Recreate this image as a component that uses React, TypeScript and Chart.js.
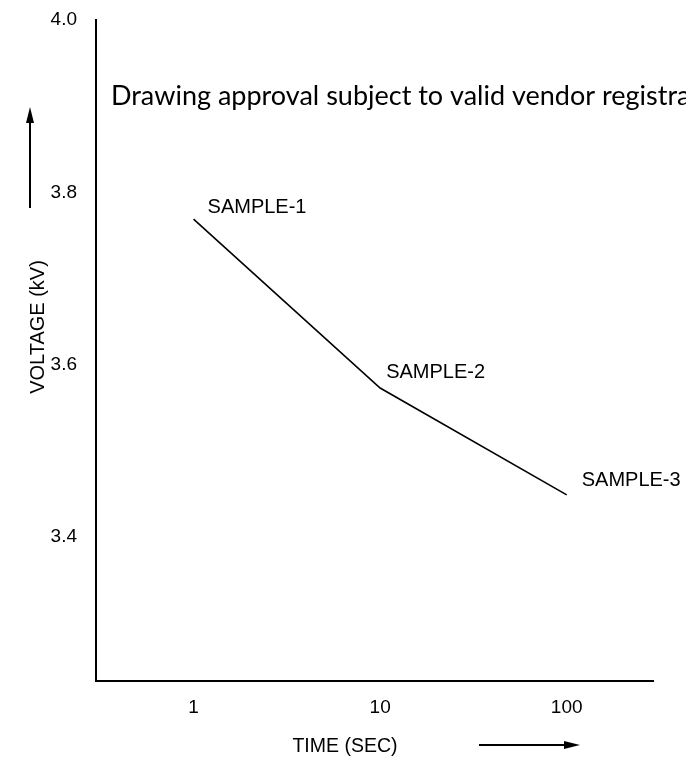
import React, { useEffect, useRef } from "react";
import { Chart, registerables } from "chart.js";

Chart.register(...registerables);

const times = [1, 10, 100];
const voltages = [3.769, 3.573, 3.449];
const sampleLabels = ["SAMPLE-1", "SAMPLE-2", "SAMPLE-3"];
const xTicks = [1, 10, 100];
const yTicks = [3.4, 3.6, 3.8, 4.0];
const watermark = "Drawing approval subject to valid vendor registration";
const xTitle = "TIME (SEC)";
const yTitle = "VOLTAGE (kV)";

const FONT = "'Liberation Sans', Arial, sans-serif";
const W = 686;
const H = 763;

function arrow(ctx: CanvasRenderingContext2D, x1: number, y1: number, x2: number, y2: number) {
  const ang = Math.atan2(y2 - y1, x2 - x1);
  const head = 16;
  const half = 4;
  const bx = x2 - head * Math.cos(ang);
  const by = y2 - head * Math.sin(ang);
  ctx.beginPath();
  ctx.lineWidth = 2;
  ctx.moveTo(x1, y1);
  ctx.lineTo(bx, by);
  ctx.stroke();
  ctx.beginPath();
  ctx.moveTo(x2, y2);
  ctx.lineTo(bx + half * Math.sin(ang), by - half * Math.cos(ang));
  ctx.lineTo(bx - half * Math.sin(ang), by + half * Math.cos(ang));
  ctx.closePath();
  ctx.fill();
}

const annotations = {
  id: "annotations",
  afterDraw(chart: any) {
    const { ctx, scales } = chart;
    const xs = scales.x;
    const ys = scales.y;
    ctx.save();
    ctx.fillStyle = "#000";
    ctx.strokeStyle = "#000";

    // sample labels next to points
    const offsets = [
      [14, -12],
      [6, -16],
      [15, -14],
    ];
    ctx.font = `20px ${FONT}`;
    ctx.textAlign = "left";
    ctx.textBaseline = "middle";
    sampleLabels.forEach((lab, i) => {
      const px = xs.getPixelForValue(times[i]);
      const py = ys.getPixelForValue(voltages[i]);
      ctx.fillText(lab, px + offsets[i][0], py + offsets[i][1]);
    });

    // axis titles
    ctx.textAlign = "center";
    ctx.font = `19.5px ${FONT}`;
    ctx.fillText(xTitle, 345, 747);
    ctx.save();
    ctx.translate(38, 327);
    ctx.rotate(-Math.PI / 2);
    ctx.font = `20px ${FONT}`;
    ctx.fillText(yTitle, 0, 0);
    ctx.restore();

    // arrows
    arrow(ctx, 30, 208, 30, 107);
    arrow(ctx, 479, 745, 580, 745);

    // watermark
    ctx.font = "27px Lato, 'Open Sans', sans-serif";
    ctx.textAlign = "left";
    ctx.textBaseline = "alphabetic";
    ctx.fillText(watermark, 111, 105);

    ctx.restore();
  },
};

export default function App() {
  const ref = useRef<HTMLCanvasElement>(null);

  useEffect(() => {
    if (!ref.current) return;
    const chart = new Chart(ref.current, {
      type: "line",
      data: {
        datasets: [
          {
            data: times.map((t, i) => ({ x: t, y: voltages[i] })),
            borderColor: "#000",
            borderWidth: 1.6,
            pointRadius: 0,
            fill: false,
            tension: 0,
          },
        ],
      },
      options: {
        responsive: false,
        maintainAspectRatio: false,
        animation: false,
        layout: { padding: { top: 20, right: 33, left: 0, bottom: 0 } },
        plugins: {
          legend: { display: false },
          tooltip: { enabled: false },
          title: { display: false },
        },
        scales: {
          x: {
            type: "logarithmic",
            min: 0.316,
            max: 290,
            grid: { display: false, drawTicks: false },
            border: { display: true, color: "#000", width: 2 },
            afterBuildTicks: (scale: any) => {
              scale.ticks = xTicks.map((v) => ({ value: v }));
            },
            afterFit: (scale: any) => {
              scale.height = 82;
              scale.paddingLeft = 0;
              scale.paddingRight = 0;
            },
            ticks: {
              color: "#000",
              font: { family: FONT, size: 19 },
              padding: 15,
              maxRotation: 0,
              autoSkip: false,
              callback: (v: any) => String(v),
            },
          },
          y: {
            type: "linear",
            min: 3.233,
            max: 4.0,
            grid: { display: false, drawTicks: false },
            border: { display: true, color: "#000", width: 2 },
            afterBuildTicks: (scale: any) => {
              scale.ticks = yTicks.map((v) => ({ value: v }));
            },
            afterFit: (scale: any) => {
              scale.width = 96;
              scale.paddingTop = 0;
              scale.paddingBottom = 0;
            },
            ticks: {
              color: "#000",
              font: { family: FONT, size: 19 },
              padding: 19,
              autoSkip: false,
              callback: (v: any) => Number(v).toFixed(1),
            },
          },
        },
      },
      plugins: [annotations],
    });
    return () => chart.destroy();
  }, []);

  return (
    <div style={{ position: "fixed", left: 0, top: 0, width: W, height: H, background: "#fff" }}>
      <canvas ref={ref} width={W} height={H} style={{ display: "block", width: W, height: H }} />
    </div>
  );
}
